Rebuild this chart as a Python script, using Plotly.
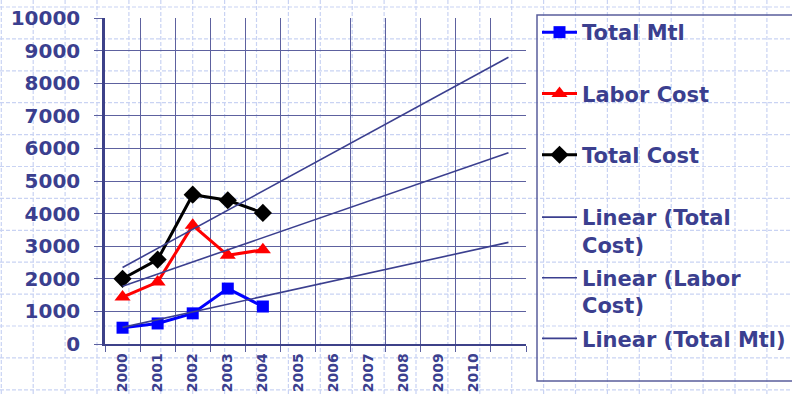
import numpy as np
import plotly.graph_objects as go

# ---- data -------------------------------------------------------------
years = ["2000", "2001", "2002", "2003", "2004", "2005",
         "2006", "2007", "2008", "2009", "2010"]
data_years = ["2000", "2001", "2002", "2003", "2004"]
total_mtl = [500, 630, 940, 1700, 1150]
labor_cost = [1440, 1900, 3640, 2720, 2890]
total_cost = [2000, 2590, 4580, 4410, 4020]
n_slots = 12              # x axis runs one slot past the last labelled year
y_ticks = list(range(0, 10001, 1000))

# ---- styling ----------------------------------------------------------
W, H = 792, 395
M_L, M_R, M_T, M_B = 105, 266, 18, 51
PW, PH = W - M_L - M_R, H - M_T - M_B
NAVY = "#3b3f8f"
GRID = "#5d619f"
FONT = "DejaVu Sans"


def px_x(px):
    return (px - M_L) / PW


def px_y(py):
    return (H - M_B - py) / PH


x_data = [years.index(y) for y in data_years]

fig = go.Figure()

series = [
    ("Total Mtl", total_mtl, "#0000ff", "square", 12),
    ("Labor Cost", labor_cost, "#ff0000", "triangle-up", 14),
    ("Total Cost", total_cost, "#000000", "diamond", 14),
]
for name, vals, col, sym, size in series:
    fig.add_trace(go.Scatter(
        x=x_data, y=vals, name=name, mode="lines+markers",
        line=dict(color=col, width=3),
        marker=dict(symbol=sym, size=size, color=col),
        legend="legend", legendgroup=name,
    ))

# linear trend lines, extended forward across the axis
x_trend = np.array([0, n_slots - 1])
for name, vals in [("Linear (Total<br>Cost)", total_cost),
                   ("Linear (Labor<br>Cost)", labor_cost),
                   ("Linear (Total Mtl)", total_mtl)]:
    coef = np.polyfit(x_data, vals, 1)
    fig.add_trace(go.Scatter(
        x=x_trend, y=np.polyval(coef, x_trend), name=name, mode="lines",
        line=dict(color=NAVY, width=1.6),
        legend="legend2", legendgroup=name,
    ))

# graph-paper backdrop
shapes = []
pat = dict(color="#c9d3f3", width=1.2, dash="4px,2px")
gx = 1.3
while gx < W:
    shapes.append(dict(type="line", xref="paper", yref="paper", layer="below",
                       x0=px_x(gx), x1=px_x(gx), y0=px_y(0), y1=px_y(H), line=pat))
    gx += 31.9
gy = 7
while gy < H:
    shapes.append(dict(type="line", xref="paper", yref="paper", layer="below",
                       x0=px_x(0), x1=px_x(W), y0=px_y(gy), y1=px_y(gy), line=pat))
    gy += 31.9

# legend frame
shapes.append(dict(type="rect", xref="paper", yref="paper",
                   x0=px_x(537), x1=px_x(W + 10), y0=px_y(381), y1=px_y(15),
                   line=dict(color="#5a5e9c", width=1.5)))

leg_font = dict(family=FONT, size=21, color=NAVY, weight="bold")

fig.update_layout(
    width=W, height=H,
    margin=dict(l=M_L, r=M_R, t=M_T, b=M_B, autoexpand=False),
    paper_bgcolor="white", plot_bgcolor="rgba(0,0,0,0)",
    font=dict(family=FONT, color=NAVY),
    shapes=shapes,
    legend=dict(x=px_x(537), y=px_y(12), xanchor="left", yanchor="top",
                font=leg_font, bgcolor="rgba(0,0,0,0)", borderwidth=0,
                traceorder="grouped", tracegroupgap=31, itemwidth=35),
    legend2=dict(x=px_x(537), y=px_y(197), xanchor="left", yanchor="top",
                 font=leg_font, bgcolor="rgba(0,0,0,0)", borderwidth=0,
                 traceorder="grouped", tracegroupgap=3, itemwidth=35,
                 valign="top"),
    xaxis=dict(
        range=[-0.5, n_slots - 0.5],
        tickmode="array", tickvals=list(range(len(years))), ticktext=years,
        tickangle=-90, ticks="", showgrid=False, zeroline=False,
        tickfont=dict(family=FONT, size=14, color=NAVY, weight="bold"),
        ticklabelstandoff=2,
        showline=True, linecolor="#3d4189", linewidth=1.5,
        minor=dict(tickmode="array",
                   tickvals=[i - 0.5 for i in range(n_slots + 1)],
                   ticks="outside", ticklen=6, tickcolor=GRID, tickwidth=1,
                   showgrid=True, gridcolor=GRID, gridwidth=1),
    ),
    yaxis=dict(
        range=[0, 10000], tickmode="array", tickvals=y_ticks,
        ticktext=[str(v) for v in y_ticks],
        ticks="outside", ticklen=8, tickcolor=GRID, tickwidth=1,
        showgrid=True, gridcolor=GRID, gridwidth=1, zeroline=False,
        showline=True, linecolor="#3d4189", linewidth=2.5,
        tickfont=dict(family=FONT, size=20, color=NAVY, weight="bold"),
        ticklabelstandoff=10,
    ),
)

fig.write_html("out.html")
